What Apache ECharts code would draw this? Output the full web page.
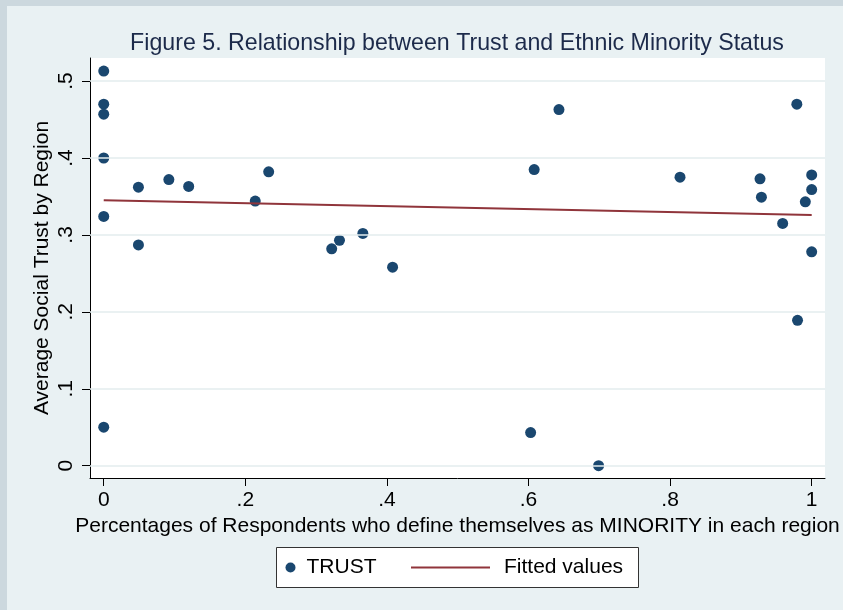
<!DOCTYPE html>
<html>
<head>
<meta charset="utf-8">
<script src="https://cdn.jsdelivr.net/npm/echarts@6/dist/echarts.min.js"></script>
<style>
  html, body { margin: 0; padding: 0; background: #e9f1f3; }
  #chart { width: 843px; height: 610px; }
</style>
</head>
<body>
<div id="chart"></div>
<script>
// Share of respondents identifying as a minority, per region
const minorityShare = [
  0, 0, 0, 0, 0, 0,
  0.049, 0.049, 0.092, 0.120, 0.214, 0.233,
  0.322, 0.333, 0.366, 0.408,
  0.603, 0.608, 0.643, 0.699,
  0.814, 0.927, 0.929, 0.959, 0.979, 0.980, 0.991,
  1.000, 1.000, 1.000
];
// Average social trust, per region
const trust = [
  0.513, 0.470, 0.457, 0.400, 0.324, 0.050,
  0.362, 0.287, 0.372, 0.363, 0.344, 0.382,
  0.282, 0.293, 0.302, 0.258,
  0.043, 0.385, 0.463, 0.000,
  0.375, 0.373, 0.349, 0.315, 0.470, 0.189, 0.343,
  0.378, 0.359, 0.278
];
// Linear fit endpoints
const fitX = [0, 1];
const fitY = [0.345, 0.326];

const xTicks = [0, 0.2, 0.4, 0.6, 0.8, 1];
const xTickLabels = ['0', '.2', '.4', '.6', '.8', '1'];
const yTicks = [0, 0.1, 0.2, 0.3, 0.4, 0.5];
const yTickLabels = ['0', '.1', '.2', '.3', '.4', '.5'];

const FONT = "'Liberation Sans', Arial, Helvetica, sans-serif";
const points = minorityShare.map((x, i) => [x, trust[i]]);
const fitLine = fitX.map((x, i) => [x, fitY[i]]);

const chart = echarts.init(document.getElementById('chart'), null, { renderer: 'canvas' });

chart.setOption({
  animation: false,
  backgroundColor: '#e9f1f3',
  textStyle: { fontFamily: FONT },
  graphic: [
    { type: 'rect', z: -10, shape: { x: 0, y: 0, width: 843, height: 6 }, style: { fill: '#ccd8de' } },
    { type: 'rect', z: -10, shape: { x: 0, y: 0, width: 7, height: 610 }, style: { fill: '#ccd8de' } },
    { type: 'rect', z: 1, shape: { x: 276.5, y: 547.5, width: 362, height: 40 },
      style: { fill: '#ffffff', stroke: '#333333', lineWidth: 1 } }
  ],
  title: {
    text: 'Figure 5. Relationship between Trust and Ethnic Minority Status',
    left: 457,
    textAlign: 'center',
    top: 32,
    padding: 0,
    textStyle: { fontFamily: FONT, fontSize: 23.2, fontWeight: 'normal', color: '#1c2a4a' }
  },
  grid: {
    left: 90, right: 18, top: 58, bottom: 132,
    show: true, backgroundColor: '#ffffff', borderWidth: 0
  },
  xAxis: {
    type: 'value',
    min: -0.0194, max: 1.0188,
    name: 'Percentages of Respondents who define themselves as MINORITY in each region',
    nameLocation: 'middle',
    nameGap: 36,
    nameTextStyle: { fontFamily: FONT, fontSize: 21, color: '#000' },
    axisLine: { show: true, onZero: false, lineStyle: { color: '#000', width: 1 } },
    axisTick: { show: true, length: 8, customValues: xTicks, lineStyle: { color: '#000' } },
    axisLabel: {
      customValues: xTicks,
      margin: 12,
      fontFamily: FONT, fontSize: 21, color: '#000',
      formatter: v => xTickLabels[xTicks.indexOf(v)]
    },
    splitLine: { show: false }
  },
  yAxis: {
    type: 'value',
    min: -0.016, max: 0.530,
    name: 'Average Social Trust by Region',
    nameLocation: 'middle',
    nameRotate: 90,
    nameGap: 37,
    nameMoveOverlap: false,
    nameTextStyle: { fontFamily: FONT, fontSize: 21, color: '#000' },
    axisLine: { show: true, onZero: false, lineStyle: { color: '#000', width: 1 } },
    axisTick: { show: true, length: 8, customValues: yTicks, lineStyle: { color: '#000' } },
    axisLabel: {
      customValues: yTicks,
      rotate: 90,
      margin: 13,
      fontFamily: FONT, fontSize: 21, color: '#000',
      formatter: v => yTickLabels[yTicks.indexOf(v)]
    },
    splitLine: { show: false }
  },
  legend: [
    {
      data: ['TRUST'],
      left: 285.5, top: 557, padding: 0,
      itemWidth: 22, itemHeight: 10, icon: 'circle',
      textStyle: { fontFamily: FONT, fontSize: 21, color: '#000' },
      selectedMode: false
    },
    {
      data: [{ name: 'Fitted values', icon: 'rect' }],
      left: 411, top: 557, padding: 0,
      itemWidth: 79, itemHeight: 2,
      itemStyle: { color: '#90353b' },
      textStyle: { fontFamily: FONT, fontSize: 21, color: '#000', padding: [0, 0, 0, 9] },
      selectedMode: false
    }
  ],
  series: [
    {
      // horizontal reference lines at each y tick
      name: 'grid',
      type: 'line',
      data: [],
      z: 1,
      silent: true,
      markLine: {
        silent: true,
        symbol: 'none',
        label: { show: false },
        lineStyle: { color: '#e3ecee', width: 1.5, type: 'solid' },
        data: yTicks.map(v => ({ yAxis: v }))
      }
    },
    {
      name: 'TRUST',
      type: 'scatter',
      data: points,
      symbol: 'circle',
      symbolSize: 11,
      itemStyle: { color: '#1a476f', opacity: 1 },
      z: 3
    },
    {
      name: 'Fitted values',
      type: 'line',
      data: fitLine,
      symbol: 'none',
      lineStyle: { color: '#90353b', width: 2 },
      itemStyle: { color: '#90353b' },
      z: 4
    }
  ]
});
</script>
</body>
</html>
